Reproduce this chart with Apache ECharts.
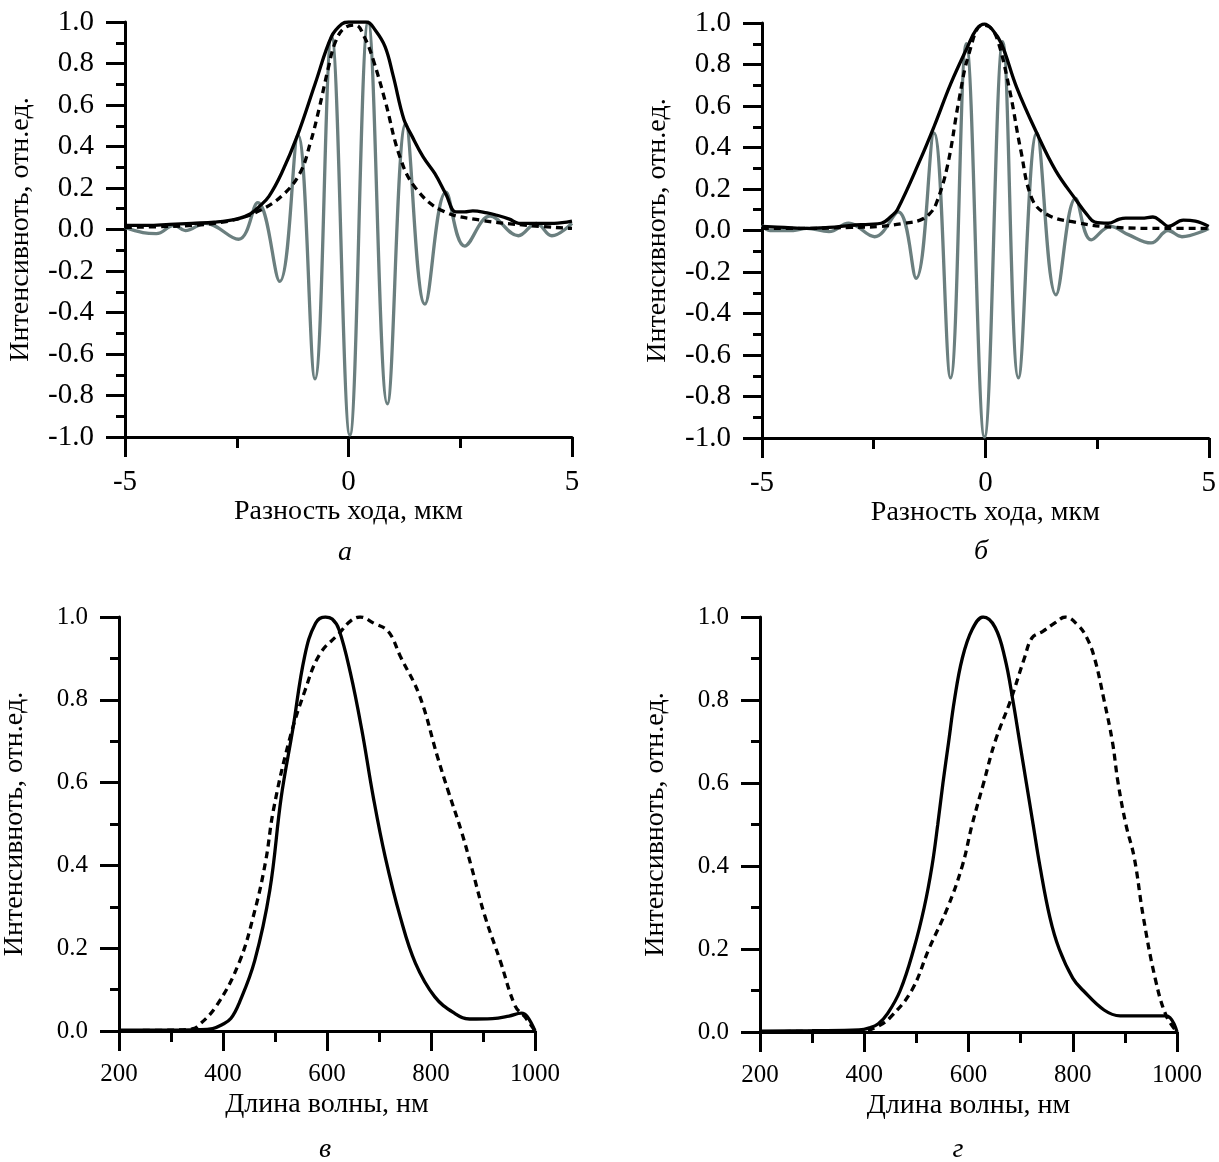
<!DOCTYPE html>
<html><head><meta charset="utf-8">
<script src="https://cdn.jsdelivr.net/npm/echarts@6/dist/echarts.min.js"></script>
<style>html,body{margin:0;padding:0;background:#fff}#c{width:1219px;height:1162px}</style>
</head><body><div id="c"></div>
<script>
// ---- Panel а (path difference, µm) ----
const aSolid = [[-5,0.02],[-4.5,0.02],[-4,0.025],[-3.5,0.03],[-3,0.035],[-2.5,0.05],[-2.2,0.075],[-2.0,0.11],[-1.78,0.16],[-1.5,0.27],[-1.13,0.46],[-0.75,0.70],[-0.38,0.93],[-0.15,0.99],[0,1.0],[0.4,1.0],[0.6,0.96],[0.82,0.88],[1.0,0.74],[1.24,0.53],[1.42,0.45],[1.67,0.35],[1.93,0.27],[2.18,0.17],[2.4,0.085],[2.6,0.085],[2.78,0.09],[3.1,0.08],[3.3,0.07],[3.6,0.05],[3.81,0.03],[4.24,0.03],[4.6,0.03],[5,0.04]];
const aDash = [[-5,0.01],[-4,0.015],[-3.5,0.02],[-3,0.03],[-2.5,0.05],[-2.0,0.09],[-1.5,0.16],[-1.09,0.27],[-0.85,0.42],[-0.66,0.58],[-0.45,0.78],[-0.3,0.9],[-0.1,0.97],[0.16,0.985],[0.35,0.93],[0.55,0.82],[0.82,0.62],[1.15,0.35],[1.5,0.2],[2.1,0.09],[2.96,0.045],[4,0.02],[5,0.005]];
const aGray = [[-5,0.01],[-4.6,-0.015],[-4.3,-0.02],[-3.9,0.02],[-3.65,-0.005],[-3.2,0.03],[-2.46,-0.047],[-2.03,0.13],[-1.54,-0.25],[-1.13,0.455],[-0.75,-0.72],[-0.38,0.93],[0.03,-0.99],[0.44,1.0],[0.87,-0.84],[1.28,0.51],[1.71,-0.36],[2.18,0.18],[2.6,-0.08],[3.17,0.065],[3.8,-0.03],[4.2,0.03],[4.55,-0.03],[5,0.03]];
// ---- Panel б ----
const bSolid = [[-5,0.02],[-4.5,0.015],[-4,0.01],[-3.5,0.015],[-3,0.025],[-2.6,0.03],[-2.33,0.035],[-2.1,0.07],[-1.97,0.1],[-1.46,0.34],[-1.15,0.5],[-0.77,0.71],[-0.41,0.88],[-0.2,0.97],[-0.02,0.995],[0.15,0.97],[0.36,0.9],[0.7,0.69],[1.15,0.47],[1.57,0.29],[2.02,0.15],[2.3,0.07],[2.45,0.04],[2.75,0.035],[3.0,0.055],[3.14,0.06],[3.5,0.06],[3.75,0.065],[3.95,0.04],[4.09,0.02],[4.43,0.05],[4.7,0.045],[5,0.02]];
const bDash = [[-5,0.01],[-4,0.01],[-3,0.015],[-2.33,0.02],[-1.8,0.035],[-1.46,0.05],[-1.25,0.08],[-1.1,0.13],[-0.85,0.31],[-0.59,0.63],[-0.37,0.85],[-0.07,0.99],[0.1,0.98],[0.27,0.92],[0.54,0.68],[0.79,0.39],[1.05,0.15],[1.4,0.075],[2.0,0.04],[2.9,0.015],[4,0.01],[5,0.01]];
const bGray = [[-5,0.027],[-4.82,0.0],[-4.3,0.0],[-4.0,0.01],[-3.5,-0.005],[-3.06,0.035],[-2.48,-0.03],[-1.95,0.09],[-1.55,-0.23],[-1.15,0.47],[-0.78,-0.71],[-0.43,0.9],[-0.02,-0.995],[0.39,0.91],[0.74,-0.71],[1.15,0.47],[1.58,-0.31],[2.02,0.155],[2.37,-0.045],[2.8,0.02],[3.2,-0.02],[3.71,-0.06],[4.09,0.0],[4.4,-0.03],[5,0.01]];
// ---- Panel в (wavelength, nm) ----
const vSolid = [[200,0.002],[300,0.002],[350,0.003],[380,0.006],[398,0.015],[415,0.03],[431,0.067],[461,0.17],[490,0.34],[512,0.565],[534,0.727],[557,0.905],[578,0.985],[597,1.0],[610,0.995],[623,0.97],[645,0.865],[667,0.727],[689,0.565],[712,0.42],[741,0.275],[770,0.164],[807,0.083],[845,0.043],[874,0.029],[918,0.03],[950,0.036],[974,0.043],[985,0.035],[1000,0]];
const vDash = [[200,0.001],[300,0.002],[340,0.005],[350,0.01],[387,0.06],[431,0.165],[461,0.29],[482,0.41],[497,0.534],[527,0.70],[557,0.82],[586,0.91],[623,0.96],[645,0.99],[664,1.0],[690,0.985],[718,0.965],[741,0.905],[778,0.81],[813,0.66],[833,0.58],[859,0.48],[877,0.4],[903,0.28],[933,0.17],[962,0.06],[980,0.035],[1000,0]];
// ---- Panel г ----
const gSolid = [[200,0.002],[300,0.003],[390,0.005],[410,0.01],[427,0.02],[445,0.045],[469,0.1],[495,0.2],[515,0.3],[530,0.4],[541,0.5],[551,0.6],[562,0.7],[573,0.8],[588,0.9],[607,0.97],[628,1.0],[651,0.975],[670,0.9],[685,0.8],[698,0.7],[711,0.6],[724,0.5],[737,0.4],[756,0.277],[774,0.2],[800,0.13],[820,0.1],[860,0.053],[891,0.039],[979,0.039],[1000,0]];
const gDash = [[200,0.001],[400,0.003],[428,0.015],[450,0.035],[491,0.1],[524,0.2],[560,0.3],[588,0.4],[607,0.5],[629,0.6],[651,0.7],[681,0.8],[707,0.9],[722,0.95],[742,0.965],[765,0.985],[786,1.0],[810,0.98],[827,0.95],[842,0.9],[860,0.8],[876,0.7],[887,0.6],[902,0.5],[918,0.42],[935,0.28],[958,0.13],[979,0.04],[1000,0]];
// ---- Texts ----
const yName = 'Интенсивноть, отн.ед.';
const xNameTop = 'Разность хода, мкм';
const xNameBottom = 'Длина волны, нм';
const captions = ['а','б','в','г'];

const FONT = '"Liberation Serif","Times New Roman",serif';
const chart = echarts.init(document.getElementById('c'), null, {renderer:'canvas'});

const grids = [
  {left:125, top:22, width:447, height:415},
  {left:762, top:23, width:449, height:415},
  {left:118, top:617, width:417, height:414},
  {left:760, top:617, width:417, height:415}
];
function xAx(i, min, max, interval, name, fs){
  return {type:'value', gridIndex:i, min, max, interval, name, nameLocation:'middle', nameGap:60,
    nameTextStyle:{fontFamily:FONT, fontSize:28, color:'#000'},
    axisLine:{onZero:false, lineStyle:{color:'#000', width:3}},
    axisTick:{length:20, lineStyle:{color:'#000', width:3}},
    minorTick:{show:true, splitNumber:2, length:11, lineStyle:{color:'#000', width:3}},
    splitLine:{show:false}, minorSplitLine:{show:false},
    axisLabel:{fontFamily:FONT, fontSize:fs, color:'#000', margin:31, formatter:v=>String(v)}};
}
function yAx(i, min, max, fs){
  return {type:'value', gridIndex:i, min, max, interval:0.2, name:yName, nameLocation:'middle', nameGap:90,
    nameTextStyle:{fontFamily:FONT, fontSize:28, color:'#000'},
    axisLine:{onZero:false, lineStyle:{color:'#000', width:3}},
    axisTick:{length:19, lineStyle:{color:'#000', width:3}},
    minorTick:{show:true, splitNumber:2, length:9, lineStyle:{color:'#000', width:3}},
    splitLine:{show:false}, minorSplitLine:{show:false},
    axisLabel:{fontFamily:FONT, fontSize:fs, color:'#000', margin:31, formatter:v=>v.toFixed(1)}};
}
function line(i, data, kind){
  const s = {type:'line', xAxisIndex:i, yAxisIndex:i, data, showSymbol:false, symbol:'none', smooth:0.4, animation:false,
    lineStyle:{color:'#000', width:3.3}};
  if(kind==='dash') s.lineStyle = {color:'#000', width:3.3, type:[7,5]};
  if(kind==='gray') s.lineStyle = {color:'#6b7f7f', width:3.3};
  return s;
}
const capPos = [[345,553],[981,552],[325,1150],[958,1150]];
chart.setOption({
  animation:false,
  backgroundColor:'#fff',
  grid:grids,
  xAxis:[xAx(0,-5,5,5,xNameTop,29), xAx(1,-5,5,5,xNameTop,29), xAx(2,200,1000,200,xNameBottom,25), xAx(3,200,1000,200,xNameBottom,25)],
  yAxis:[yAx(0,-1,1,29), yAx(1,-1,1,29), yAx(2,0,1,25), yAx(3,0,1,25)],
  series:[
    line(0,aGray,'gray'), line(0,aDash,'dash'), line(0,aSolid,'solid'),
    line(1,bGray,'gray'), line(1,bDash,'dash'), line(1,bSolid,'solid'),
    line(2,vDash,'dash'), line(2,vSolid,'solid'),
    line(3,gDash,'dash'), line(3,gSolid,'solid')
  ],
  graphic: captions.map((t,k)=>({type:'text', x:capPos[k][0], y:capPos[k][1],
    style:{text:t, font:'italic 28px '+FONT, fill:'#000', textAlign:'center', textVerticalAlign:'middle'}}))
});
</script></body></html>
